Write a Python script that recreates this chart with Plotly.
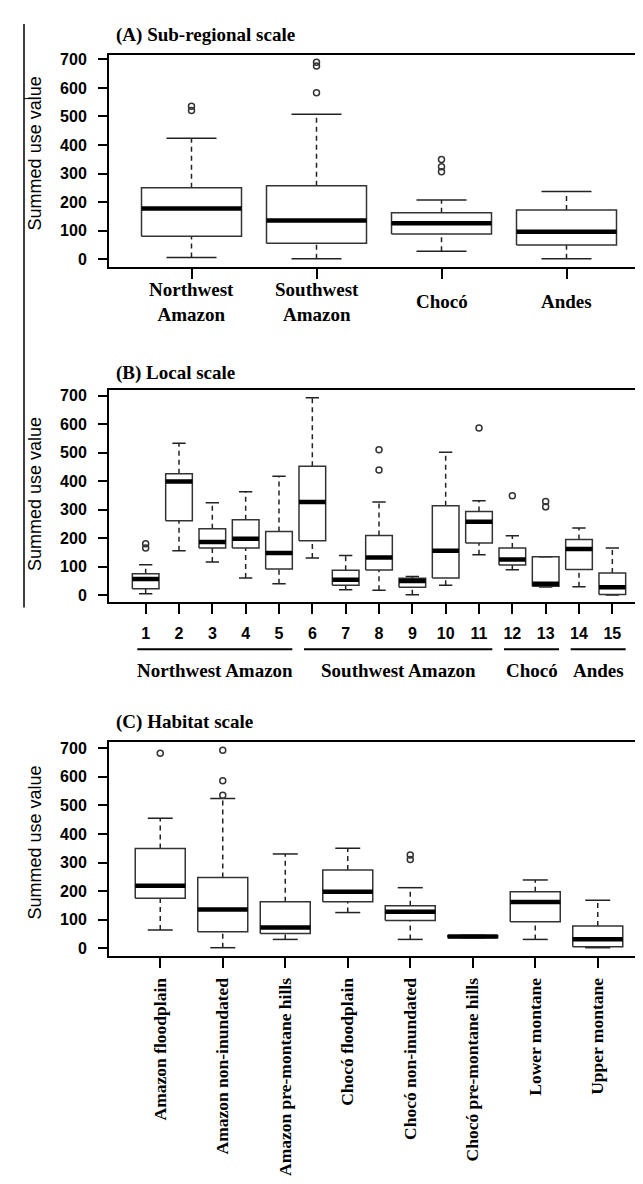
import plotly.graph_objects as go

# ---------------- data ----------------
# (A) Sub-regional scale
a_labels = ["Northwest<br>Amazon", "Southwest<br>Amazon", "Chocó", "Andes"]
a_lower = [6, 2, 28, 2]
a_q1 = [80, 56, 88, 50]
a_med = [178, 136, 126, 96]
a_q3 = [250, 257, 163, 172]
a_upper = [424, 508, 207, 237]
a_out = [[521, 536], [583, 677, 690], [306, 324, 349], []]

# (B) Local scale
b_labels = [str(i) for i in range(1, 16)]
b_lower = [6, 156, 117, 61, 41, 131, 20, 18, 2, 35, 142, 90, 29, 30, 1]
b_q1 = [23, 261, 166, 166, 92, 191, 35, 89, 28, 61, 183, 106, 32, 91, 3]
b_med = [57, 399, 187, 198, 148, 327, 55, 133, 50, 156, 258, 126, 41, 162, 28]
b_q3 = [76, 426, 233, 265, 224, 452, 88, 210, 60, 314, 294, 166, 135, 196, 78]
b_upper = [107, 533, 324, 363, 417, 692, 140, 327, 66, 501, 331, 209, 135, 236, 166]
b_out = [[166, 181], [], [], [], [], [], [], [439, 510], [], [], [586], [349], [310, 329], [], []]
b_groups = ["Northwest Amazon", "Southwest Amazon", "Chocó", "Andes"]
b_group_first = [1, 6, 12, 14]
b_group_last = [5, 11, 13, 15]

# (C) Habitat scale
c_labels = ["Amazon floodplain", "Amazon non-inundated", "Amazon pre-montane hills",
            "Chocó floodplain", "Chocó non-inundated", "Chocó pre-montane hills",
            "Lower montane", "Upper montane"]
c_lower = [64, 2, 31, 125, 31, 37, 31, 2]
c_q1 = [175, 58, 52, 163, 97, 38, 93, 5]
c_med = [219, 136, 73, 198, 128, 41, 162, 32]
c_q3 = [349, 248, 163, 274, 149, 44, 198, 78]
c_upper = [455, 524, 330, 350, 212, 45, 239, 168]
c_out = [[682], [535, 586, 693], [], [], [311, 326], [], [], []]

# ---------------- figure ----------------
W, H = 643, 1184
SERIF = "Liberation Serif"
SANS = "Liberation Sans"
fig = go.Figure()


def py(p):
    return 1 - p / H


def add_boxes(lower, q1, med, q3, upper, outs, xa, ya):
    hw = 0.4
    bx, by, mx, my, wx, wy, cx, cy, ox, oy = [], [], [], [], [], [], [], [], [], []
    for i in range(len(med)):
        x = i + 1
        bx += [x - hw, x + hw, x + hw, x - hw, x - hw, None]
        by += [q1[i], q1[i], q3[i], q3[i], q1[i], None]
        mx += [x - hw, x + hw, None]
        my += [med[i], med[i], None]
        wx += [x, x, None, x, x, None]
        wy += [q3[i], upper[i], None, lower[i], q1[i], None]
        cx += [x - hw / 2, x + hw / 2, None, x - hw / 2, x + hw / 2, None]
        cy += [upper[i], upper[i], None, lower[i], lower[i], None]
        for v in outs[i]:
            ox.append(x)
            oy.append(v)
    common = dict(xaxis=xa, yaxis=ya, hoverinfo="skip", showlegend=False)
    fig.add_trace(go.Scatter(x=wx, y=wy, mode="lines",
                             line=dict(color="#222", width=1.5, dash="5px,4px"), **common))
    fig.add_trace(go.Scatter(x=cx, y=cy, mode="lines",
                             line=dict(color="#222", width=1.5), **common))
    fig.add_trace(go.Scatter(x=bx, y=by, mode="lines", fill="none",
                             line=dict(color="#333", width=1.5), **common))
    fig.add_trace(go.Scatter(x=mx, y=my, mode="lines",
                             line=dict(color="black", width=4.5), **common))
    fig.add_trace(go.Scatter(x=ox, y=oy, mode="markers",
                             marker=dict(symbol="circle-open", size=6, color="#333",
                                         line=dict(width=1.5)), **common))


add_boxes(a_lower, a_q1, a_med, a_q3, a_upper, a_out, "x", "y")
add_boxes(b_lower, b_q1, b_med, b_q3, b_upper, b_out, "x2", "y2")
add_boxes(c_lower, c_q1, c_med, c_q3, c_upper, c_out, "x3", "y3")

xdom = [101 / W, 641 / W]
frame = dict(showline=True, mirror=True, linewidth=2, linecolor="black",
             showgrid=False, zeroline=False, ticks="outside", tickwidth=2,
             tickcolor="black")
yax = dict(frame, tickvals=list(range(0, 701, 100)), ticklen=9,
           tickfont=dict(family=SANS, size=16, color="black", weight="bold"),
           ticklabelstandoff=8)

fig.update_layout(
    width=W, height=H,
    margin=dict(l=0, r=0, t=0, b=0),
    plot_bgcolor="white", paper_bgcolor="white",
    showlegend=False,
    xaxis=dict(frame, domain=xdom, range=[0.34, len(a_labels) + 0.66],
               tickvals=list(range(1, len(a_labels) + 1)), showticklabels=False,
               ticklen=10, anchor="y"),
    yaxis=dict(yax, domain=[py(256), py(42.7)], range=[-27, 717], anchor="x"),
    xaxis2=dict(frame, domain=xdom, range=[-0.1, len(b_labels) + 1.1],
                tickvals=list(range(1, len(b_labels) + 1)), ticktext=b_labels,
                ticklen=10, anchor="y2",
                tickfont=dict(family=SANS, size=16, color="black", weight="bold"),
                ticklabelstandoff=5),
    yaxis2=dict(yax, domain=[py(593), py(380)], range=[-25, 718], anchor="x2"),
    xaxis3=dict(frame, domain=xdom, range=[0.18, len(c_labels) + 0.82],
                tickvals=list(range(1, len(c_labels) + 1)), ticktext=c_labels,
                ticklen=10, anchor="y3", tickangle=-90,
                tickfont=dict(family=SERIF, size=17.5, color="black", weight="bold"),
                ticklabelstandoff=3),
    yaxis3=dict(yax, domain=[py(948), py(733)], range=[-27, 722], anchor="x3"),
)

# panel A category labels
for i, lab in enumerate(a_labels):
    fig.add_annotation(text=lab, xref="x", yref="paper", x=i + 1, y=py(291),
                       xanchor="center", yanchor="middle", showarrow=False,
                       font=dict(family=SERIF, size=19, color="black", weight="bold"))

titles = [("(A) Sub-regional scale", 23), ("(B) Local scale", 363), ("(C) Habitat scale", 713)]
for t, yp in titles:
    fig.add_annotation(text=t, xref="paper", yref="paper", x=106 / W, y=py(yp),
                       xanchor="left", yanchor="middle", showarrow=False,
                       font=dict(family=SERIF, size=19, color="black", weight="bold"))

for yp in [142, 484, 834]:
    fig.add_annotation(text="Summed use value", xref="paper", yref="paper",
                       x=27 / W, y=py(yp), textangle=-90, showarrow=False,
                       xanchor="center", yanchor="middle",
                       font=dict(family=SANS, size=18, color="black"))

# group underlines and labels for panel B
for name, f, l in zip(b_groups, b_group_first, b_group_last):
    x0, x1 = f - 0.25, l + 0.4
    fig.add_shape(type="line", xref="x2", yref="paper", x0=x0, x1=x1,
                  y0=py(640), y1=py(640), line=dict(color="black", width=2))
    fig.add_annotation(text=name, xref="x2", yref="paper", x=(x0 + x1) / 2, y=py(661),
                       xanchor="center", yanchor="middle", showarrow=False,
                       font=dict(family=SERIF, size=19, color="black", weight="bold"))

# page border artefact on the left
fig.add_shape(type="line", xref="paper", yref="paper", x0=16 / W, x1=16 / W,
              y0=py(12), y1=py(598), line=dict(color="black", width=1.5))
fig.add_shape(type="line", xref="paper", yref="paper", x0=16 / W, x1=33 / W,
              y0=py(87), y1=py(87), line=dict(color="black", width=1))

fig.write_html("out.html")
